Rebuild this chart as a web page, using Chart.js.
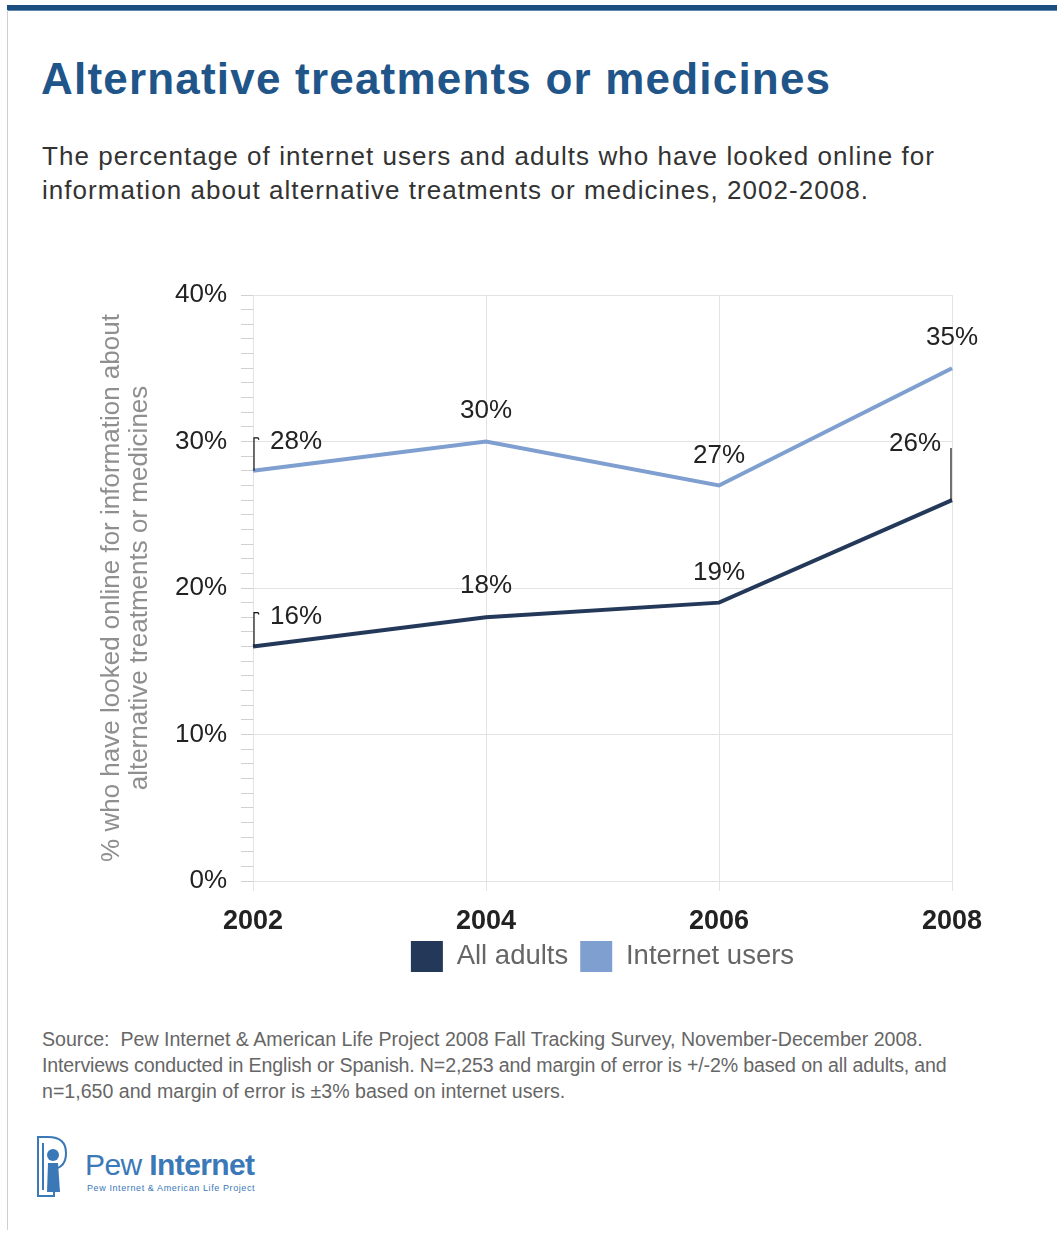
<!DOCTYPE html>
<html>
<head>
<meta charset="utf-8">
<script src="https://cdn.jsdelivr.net/npm/chart.js@4/dist/chart.umd.min.js"></script>
<style>
  html, body { margin: 0; padding: 0; background: #fff; }
  body { width: 1057px; height: 1235px; position: relative; overflow: hidden; font-family: "Liberation Sans", Arial, sans-serif; }
  .topbar { position: absolute; left: 7px; right: 0; top: 5px; height: 5px; background: #1b4f80; border-bottom: 1px solid #5d86b0; }
  .leftrule { position: absolute; left: 7px; top: 10px; width: 1px; height: 1220px; background: #cfcfcf; }
  h1 { position: absolute; left: 41px; top: 54px; margin: 0; font-size: 44px; font-weight: bold; color: #1f5589; letter-spacing: 1.2px; white-space: nowrap; }
  .sub { position: absolute; left: 42px; top: 139px; margin: 0; font-size: 26px; line-height: 34px; color: #333; white-space: nowrap; letter-spacing: 1.05px; }
  .chartbox { position: absolute; left: 0; top: 260px; width: 1057px; height: 730px; }
  .source { position: absolute; left: 42px; top: 1026px; font-family: "Liberation Sans Narrow", "Liberation Sans", sans-serif; font-size: 19.6px; line-height: 26px; color: #666; white-space: nowrap; }
  .source .tight { letter-spacing: -0.15px; }
  .logo { position: absolute; left: 36px; top: 1134px; width: 230px; height: 66px; }
  .logo .word { position: absolute; left: 49px; top: 14px; font-family: "Liberation Sans Narrow", "Liberation Sans", sans-serif; font-size: 30px; color: #3b78b8; white-space: nowrap; letter-spacing: -0.6px; }
  .logo .word b { font-weight: bold; }
  .logo .tag { position: absolute; left: 51px; top: 49px; font-family: "Liberation Sans Narrow", "Liberation Sans", sans-serif; font-size: 9px; color: #3b78b8; white-space: nowrap; letter-spacing: 0.6px; }
</style>
</head>
<body>
<div class="topbar"></div>
<div class="leftrule"></div>
<h1>Alternative treatments or medicines</h1>
<p class="sub">The percentage of internet users and adults who have looked online for<br>information about alternative treatments or medicines, 2002-2008.</p>
<div class="chartbox"><canvas id="chart"></canvas></div>
<div class="source">Source:&nbsp; Pew Internet &amp; American Life Project 2008 Fall Tracking Survey, November-December 2008.<br><span class="tight">Interviews conducted in English or Spanish. N=2,253 and margin of error is +/-2% based on all adults, and</span><br>n=1,650 and margin of error is ±3% based on internet users.</div>
<div class="logo">
  <svg width="34" height="66" viewBox="0 0 34 66" style="position:absolute;left:0;top:0">
    <path d="M2 3 L12 3 Q30 3 30 19 Q30 33 18 35 L18 62 L2 62 Z" fill="none" stroke="#3b78b8" stroke-width="2"/>
    <path d="M7 9 L7 56" stroke="#3b78b8" stroke-width="2"/>
    <circle cx="17" cy="21" r="6" fill="#3b78b8"/>
    <path d="M12 29 L22 29 L24 58 L11 58 Z" fill="#3b78b8"/>
  </svg>
  <div class="word">Pew <b>Internet</b></div>
  <div class="tag">Pew Internet &amp; American Life Project</div>
</div>
<script>
// Survey years and percentages
const years = ['2002', '2004', '2006', '2008'];
const allAdults = [16, 18, 19, 26];
const internetUsers = [28, 30, 27, 35];
const yTickLabels = [0, 10, 20, 30, 40];

const DARK = '#24395a';
const LIGHT = '#7f9fd0';
const FONT = '"Liberation Sans", Arial, sans-serif';

// Value labels: offsets (px) from the point, plus an optional leader line
const labelSpecs = [
  { ds: 1, i: 0, dx: 17, dy: -29, align: 'left', leader: true },
  { ds: 1, i: 1, dx: 0, dy: -31, align: 'center' },
  { ds: 1, i: 2, dx: 0, dy: -30, align: 'center' },
  { ds: 1, i: 3, dx: 0, dy: -30, align: 'center' },
  { ds: 0, i: 0, dx: 17, dy: -30, align: 'left', leader: true },
  { ds: 0, i: 1, dx: 0, dy: -31, align: 'center' },
  { ds: 0, i: 2, dx: 0, dy: -30, align: 'center' },
  { ds: 0, i: 3, dx: -37, dy: -56, align: 'center', leaderUp: true }
];

const valueLabels = {
  id: 'valueLabels',
  afterDatasetsDraw(chart) {
    const { ctx } = chart;
    ctx.save();
    ctx.font = '26px ' + FONT;
    ctx.fillStyle = '#222';
    ctx.textBaseline = 'middle';
    labelSpecs.forEach(s => {
      const pt = chart.getDatasetMeta(s.ds).data[s.i];
      const v = chart.data.datasets[s.ds].data[s.i];
      const x = pt.x + s.dx, y = pt.y + s.dy;
      ctx.textAlign = s.align;
      ctx.fillText(v + '%', x, y);
      ctx.strokeStyle = '#111';
      ctx.lineWidth = 1.2;
      if (s.leader) {
        ctx.beginPath();
        ctx.moveTo(pt.x + 1, pt.y);
        ctx.lineTo(pt.x + 1, y - 4);
        ctx.lineTo(pt.x + 5, y - 4);
        ctx.lineTo(pt.x + 6, y - 2);
        ctx.stroke();
      }
      if (s.leaderUp) {
        ctx.beginPath();
        ctx.moveTo(pt.x - 1, pt.y);
        ctx.lineTo(pt.x - 1, y + 4);
        ctx.stroke();
      }
    });
    ctx.restore();
  }
};

new Chart(document.getElementById('chart'), {
  type: 'line',
  data: {
    labels: years,
    datasets: [
      { label: 'All adults', data: allAdults, borderColor: DARK, backgroundColor: DARK, borderWidth: 4, pointRadius: 0, tension: 0 },
      { label: 'Internet users', data: internetUsers, borderColor: LIGHT, backgroundColor: LIGHT, borderWidth: 4, pointRadius: 0, tension: 0 }
    ]
  },
  options: {
    responsive: true,
    maintainAspectRatio: false,
    animation: false,
    layout: { padding: { left: 0, right: 105, top: 35, bottom: 8 } },
    plugins: {
      title: { display: false },
      tooltip: { enabled: false },
      legend: {
        position: 'bottom',
        fullSize: false,
        labels: {
          boxWidth: 32, boxHeight: 31, padding: 12,
          color: '#666',
          font: { family: FONT, size: 27.5 },
          generateLabels(chart) {
            return chart.data.datasets.map((d, i) => ({
              text: d.label, fillStyle: d.borderColor, strokeStyle: d.borderColor,
              fontColor: '#666', lineWidth: 0, datasetIndex: i
            }));
          }
        }
      }
    },
    scales: {
      x: {
        type: 'category',
        offset: false,
        grid: { color: '#e3e3e3', lineWidth: 1, tickLength: 10, tickColor: '#e3e3e3' },
        border: { display: false },
        ticks: { color: '#222', padding: 14, font: { family: FONT, size: 27, weight: 'bold' }, maxRotation: 0 },
        afterFit(scale) { scale.height = 48; }
      },
      y: {
        min: 0, max: 40,
        afterBuildTicks(scale) {
          const t = [];
          for (let v = 0; v <= 40; v++) t.push({ value: v });
          scale.ticks = t;
        },
        grid: {
          color: ctx => (ctx.tick && yTickLabels.includes(ctx.tick.value)) ? '#e3e3e3' : 'rgba(0,0,0,0)',
          tickColor: '#d0d0d0',
          tickLength: 12,
          lineWidth: 1
        },
        border: { display: true, color: '#e3e3e3' },
        ticks: {
          autoSkip: false,
          padding: 14,
          color: '#222',
          font: { family: FONT, size: 26 },
          callback: v => yTickLabels.includes(v) ? v + '%' : ''
        },
        title: {
          display: true,
          text: ['% who have looked online for information about', 'alternative treatments or medicines'],
          color: '#8f8f8f',
          font: { family: FONT, size: 26, lineHeight: 1.08 },
          padding: { top: 98, bottom: 0 }
        },
        afterFit(scale) { scale.width = 253; }
      }
    }
  },
  plugins: [valueLabels]
});
</script>
</body>
</html>
